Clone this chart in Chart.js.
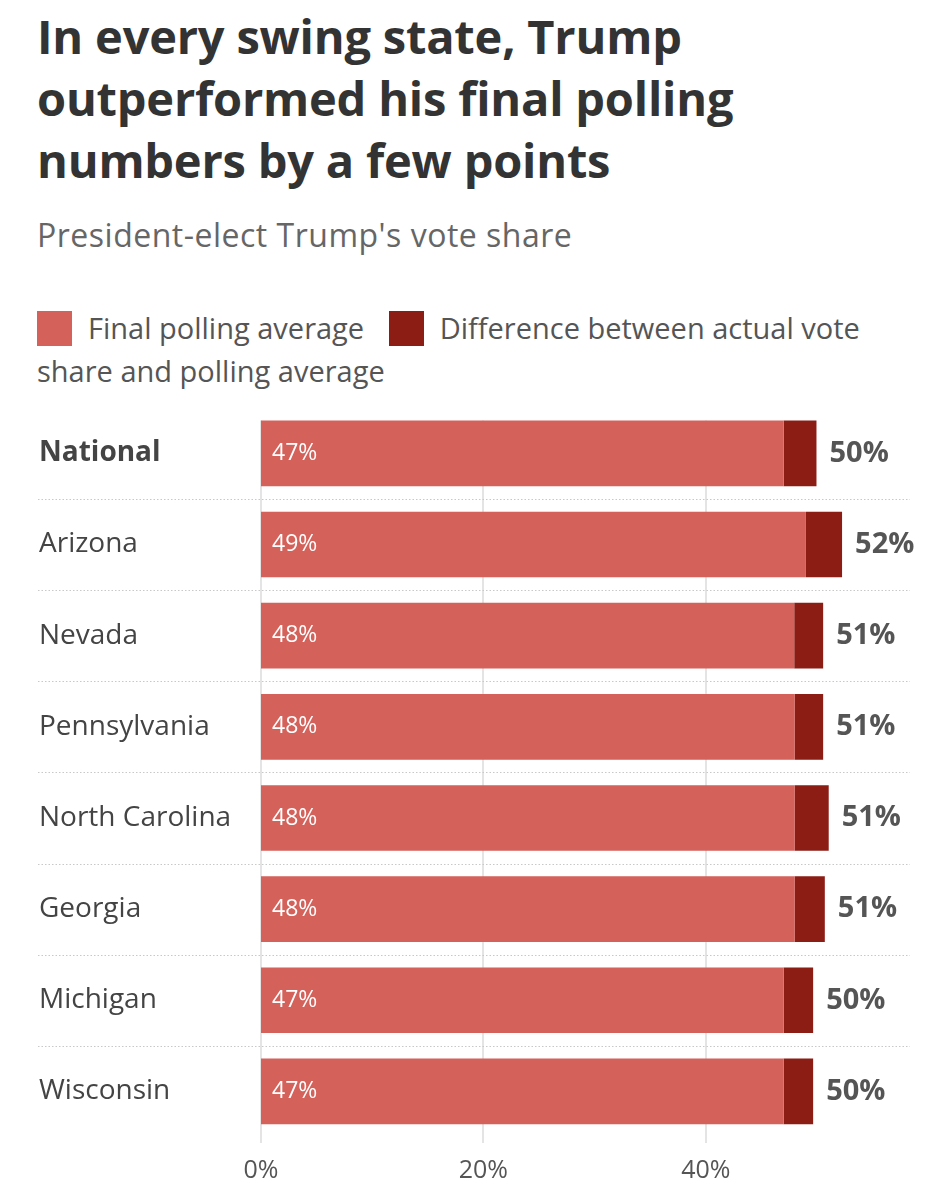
<!DOCTYPE html>
<html>
<head>
<meta charset="utf-8">
<script src="https://cdn.jsdelivr.net/npm/chart.js@4.4.1/dist/chart.umd.min.js"></script>
<style>
  html, body { margin: 0; padding: 0; background: #fff; }
  body { width: 949px; height: 1200px; position: relative; overflow: hidden; font-family: "Open Sans", sans-serif; }
  #title { position: absolute; left: 37px; top: 5px; font-weight: 700; font-size: 47px; line-height: 62px; color: #333; letter-spacing: -0.2px; white-space: nowrap; }
  #subtitle { position: absolute; left: 37px; top: 213px; font-size: 32px; color: #666; white-space: nowrap; letter-spacing: 0.5px; }
  #legend { position: absolute; left: 37px; top: 306px; width: 880px; font-size: 29px; line-height: 43px; color: #555; }
  .sw { display: inline-block; width: 35px; height: 35px; vertical-align: -7px; margin-right: 16px; }
  .item { margin-right: 17px; }
  #wrap { position: absolute; left: 0; top: 391px; width: 949px; height: 809px; }
</style>
</head>
<body>
<div id="title">In every swing state, Trump<br>outperformed his final polling<br>numbers by a few points</div>
<div id="subtitle">President-elect Trump's vote share</div>
<div id="legend"></div>
<div id="wrap"><canvas id="c"></canvas></div>
<script>
const categories = ["National", "Arizona", "Nevada", "Pennsylvania", "North Carolina", "Georgia", "Michigan", "Wisconsin"];
const pollingAverage = [47.0, 49.0, 47.95, 48.0, 48.0, 48.0, 47.0, 47.0];
const difference = [2.95, 3.25, 2.6, 2.55, 3.05, 2.7, 2.65, 2.65];
const seriesNames = ["Final polling average", "Difference between actual vote share and polling average"];
const seriesColors = ["#D4615A", "#8C1D15"];
const xTicks = [0, 20, 40];

// HTML legend from series arrays
const leg = document.getElementById('legend');
seriesNames.forEach((n, i) => {
  const s = document.createElement('span');
  s.className = 'item';
  s.innerHTML = '<span class="sw" style="background:' + seriesColors[i] + '"></span>' + n;
  leg.appendChild(s);
  leg.appendChild(document.createTextNode(' '));
});

const FONT = '"Open Sans", sans-serif';

const gridAndSeparators = {
  id: 'gridAndSeparators',
  beforeDatasetsDraw(chart) {
    const ctx = chart.ctx, y = chart.scales.y, x = chart.scales.x;
    const first = chart.getDatasetMeta(0).data[0];
    const topY = first.y - first.height / 2;
    const botY = chart.chartArea.bottom + 6;
    ctx.save();
    ctx.strokeStyle = '#e4e4e4';
    ctx.lineWidth = 2;
    xTicks.forEach(v => {
      const px = Math.round(x.getPixelForValue(v));
      ctx.beginPath();
      ctx.moveTo(px, topY);
      ctx.lineTo(px, botY);
      ctx.stroke();
    });
    ctx.strokeStyle = '#c8c8c8';
    ctx.lineWidth = 1;
    ctx.setLineDash([1.5, 2]);
    for (let i = 0; i < categories.length - 1; i++) {
      const py = Math.round((y.getPixelForValue(i) + y.getPixelForValue(i + 1)) / 2) + 0.5;
      ctx.beginPath();
      ctx.moveTo(38, py);
      ctx.lineTo(910, py);
      ctx.stroke();
    }
    ctx.restore();
  }
};

const valueLabels = {
  id: 'valueLabels',
  afterDatasetsDraw(chart) {
    const ctx = chart.ctx;
    const m0 = chart.getDatasetMeta(0), m1 = chart.getDatasetMeta(1);
    ctx.save();
    ctx.textBaseline = 'middle';
    m0.data.forEach((bar, i) => {
      ctx.font = '23px ' + FONT;
      ctx.fillStyle = '#fff';
      ctx.textAlign = 'left';
      ctx.fillText(Math.round(pollingAverage[i]) + '%', bar.base + 11, bar.y);
    });
    m1.data.forEach((bar, i) => {
      ctx.font = 'bold 29px ' + FONT;
      ctx.fillStyle = '#555';
      ctx.textAlign = 'left';
      ctx.fillText(Math.round(pollingAverage[i] + difference[i]) + '%', bar.x + 13, bar.y);
    });
    ctx.restore();
  }
};

new Chart(document.getElementById('c'), {
  type: 'bar',
  data: {
    labels: categories,
    datasets: [
      { label: seriesNames[0], data: pollingAverage, backgroundColor: seriesColors[0], barPercentage: 0.72, categoryPercentage: 1 },
      { label: seriesNames[1], data: difference, backgroundColor: seriesColors[1], barPercentage: 0.72, categoryPercentage: 1 }
    ]
  },
  options: {
    indexAxis: 'y',
    responsive: true,
    maintainAspectRatio: false,
    animation: false,
    devicePixelRatio: 1,
    layout: { padding: { left: 39, right: 43, top: 0, bottom: 0 } },
    plugins: { legend: { display: false }, tooltip: { enabled: false } },
    scales: {
      x: {
        stacked: true,
        min: 0, max: 58,
        afterBuildTicks(scale) { scale.ticks = xTicks.map(v => ({ value: v })); },
        afterFit(scale) { scale.height = 63; },
        border: { display: false },
        grid: { display: false, tickLength: 6 },
        ticks: {
          color: '#555', padding: 13,
          font: { family: FONT, size: 25 },
          callback: v => v + '%'
        }
      },
      y: {
        stacked: true,
        afterFit(scale) { scale.width = 222; },
        border: { display: false },
        grid: { display: false },
        ticks: {
          crossAlign: 'far',
          color: '#444',
          padding: 0,
          font: ctx => ({ family: FONT, size: 28, weight: ctx.index === 0 ? 'bold' : 'normal' })
        }
      }
    }
  },
  plugins: [gridAndSeparators, valueLabels]
});
</script>
</body>
</html>
